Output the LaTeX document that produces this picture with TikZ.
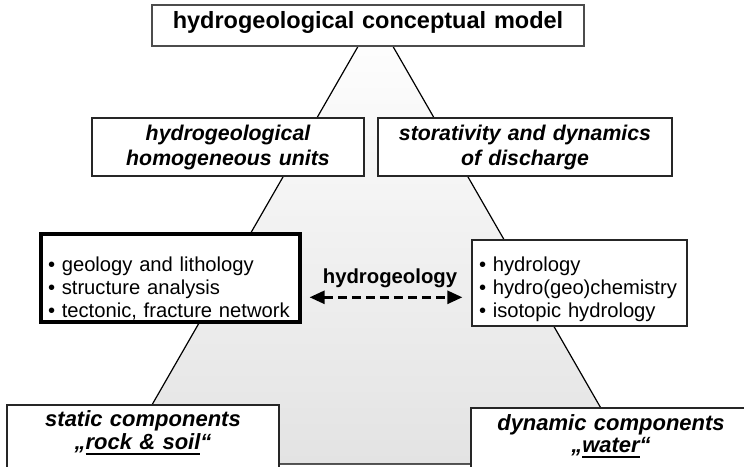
\documentclass[tikz,border=0pt]{standalone}
\usepackage{fontspec}
\setmainfont{Liberation Sans}
\usetikzlibrary{arrows.meta}
\newcommand{\ulword}[1]{\setbox0\hbox{#1}\rlap{\rule[-5.5pt]{\wd0}{2.2pt}}\box0}

\begin{document}
\begin{tikzpicture}[x=1pt,y=-1pt,
    box/.style={draw=black!85,line width=1.3pt,fill=white,inner sep=0pt,align=center,anchor=base},
    listbox/.style={box,align=left,inner xsep=7pt,font=\fontsize{20.2}{22.7}\selectfont},
    headtext/.style={font=\bfseries\itshape\fontsize{21.3}{25}\selectfont},
    foottext/.style={font=\bfseries\itshape\fontsize{22}{22.5}\selectfont},
    dlink/.style={line width=2.6pt,dash pattern=on 9pt off 5pt,
        {Triangle[length=15pt,width=13pt]}-{Triangle[length=15pt,width=13pt]}}]
        \useasboundingbox (0,0) rectangle (744,466);
        % triangle behind the boxes
        \draw[line width=1.2pt,top color=white,bottom color=black!11]
            (375.5,16) -- (118,464) -- (633,464) -- cycle;

        \node[box,draw=black!70,line width=1.6pt,text width=432pt,text height=23pt,text depth=18pt,
            font=\bfseries\fontsize{23.5}{28}\selectfont] (model) at (368,28) {hydrogeological conceptual model};

        \node[box,headtext,text width=272pt,text height=22pt,text depth=36pt] (units) at (228,140)
            {hydrogeological\\homogeneous units};
        \node[box,headtext,text width=294pt,text height=22pt,text depth=36pt] (storage) at (525,140)
            {storativity and dynamics\\of discharge};

        \node[listbox,draw=black,line width=3.2pt,text width=245pt,text height=37.7pt,text depth=50.3pt] (geo) at (170.5,271.7)
            {\mbox{• geology and lithology}\\ \mbox{• structure analysis}\\ \mbox{• tectonic, fracture network}};
        \node[listbox,text width=201pt,text height=31.7pt,text depth=54.3pt] (water) at (579.5,271.7)
            {\mbox{• hydrology}\\ \mbox{• hydro(geo)chemistry}\\ \mbox{• isotopic hydrology}};

        \node[font=\bfseries\fontsize{20.3}{24}\selectfont,inner sep=0pt,anchor=base] (hg) at (390,283) {hydrogeology};
        \coordinate (axis) at (390,297.3);
        \draw[dlink,shorten <=8pt,shorten >=9pt] (geo.east |- axis) -- (water.west |- axis);

        \node[box,foottext,text width=272pt,text height=21.7pt,text depth=60pt] (rock) at (143,426.7)
            {static components\\„\ulword{rock \& soil}“};
        \node[box,foottext,text width=280pt,text height=22pt,text depth=60pt] (dyn) at (611,430)
            {dynamic components\\„\ulword{water}“};
\end{tikzpicture}
\end{document}
